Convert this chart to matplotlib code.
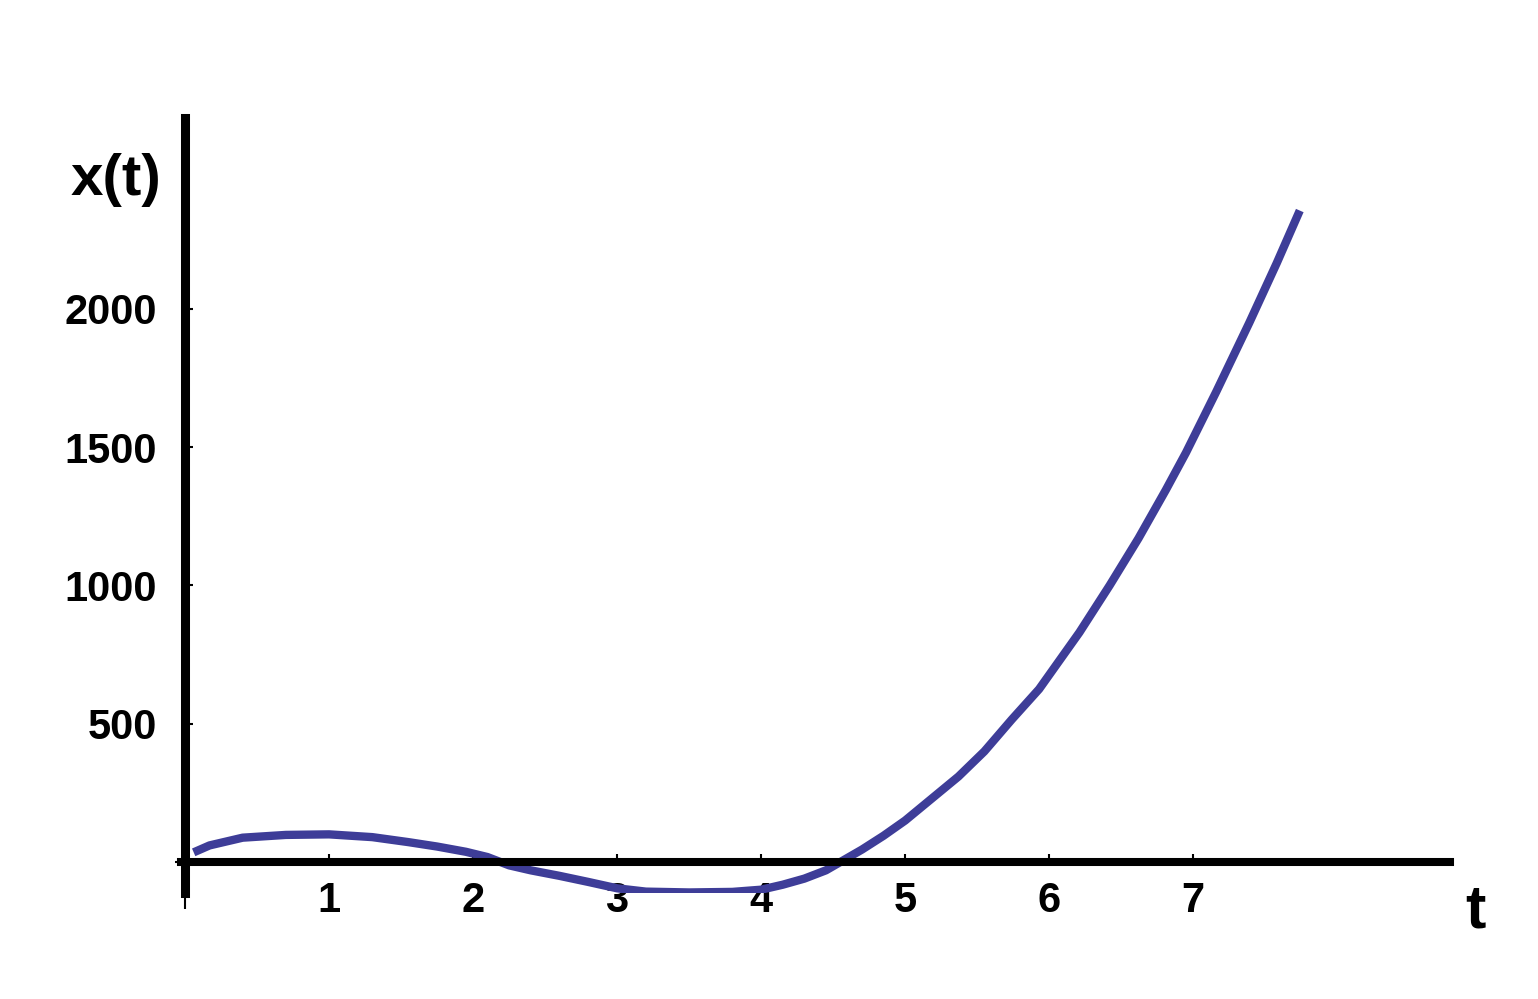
import matplotlib
matplotlib.use('Agg')
import matplotlib.pyplot as plt

plt.rcParams['font.family'] = ['Liberation Sans', 'DejaVu Sans']

# curve
t = [0.06, 0.17, 0.4, 0.7, 1.0, 1.3, 1.55, 1.75, 1.95, 2.1, 2.25, 2.4, 2.6, 2.8,
     3.0, 3.2, 3.5, 3.8, 4.0, 4.15, 4.3, 4.45, 4.55, 4.7, 4.85, 5.0, 5.37, 5.55,
     5.74, 5.93, 6.21, 6.42, 6.62, 6.81, 6.95, 7.16, 7.39, 7.58, 7.74]
x = [35, 60, 88, 98, 100, 90, 72, 56, 37, 18, -12, -30, -50, -72,
     -95, -107, -110, -108, -100, -82, -60, -30, 0, 45, 95, 150, 309, 400,
     515, 625, 830, 1000, 1170, 1345, 1480, 1700, 1950, 2165, 2355]

xticks = [1, 2, 3, 4, 5, 6, 7]
yticks = [500, 1000, 1500, 2000]

fig = plt.figure(figsize=(15.38, 9.99), dpi=100)
ax = fig.add_axes([0.1175, 0.1061, 0.8250, 0.7759])

ax.plot(t, x, color='#3e3d98', lw=6, solid_capstyle='butt', solid_joinstyle='round')

ax.set_xlim(-0.03, 8.78)
ax.set_ylim(-112, 2690)

# axes through the origin
ax.spines['top'].set_visible(False)
ax.spines['right'].set_visible(False)
ax.spines['left'].set_position(('data', 0))
ax.spines['bottom'].set_position(('data', 0))
ax.spines['left'].set_linewidth(6.5)
ax.spines['bottom'].set_linewidth(5.8)

ax.set_xticks(xticks)
ax.set_xticklabels([str(v) for v in xticks])
ax.set_yticks(yticks)
ax.set_yticklabels([str(v) for v in yticks])
ax.tick_params(axis='x', direction='in', length=6, width=1.5, pad=14,
               labelsize=30)
ax.tick_params(axis='y', direction='in', length=6, width=1.5, pad=20,
               labelsize=30)
for lab in ax.get_xticklabels() + ax.get_yticklabels():
    lab.set_fontweight('bold')

# small stubs at the origin
ax.set_xticks([0], minor=True)
ax.set_yticks([0], minor=True)
ax.tick_params(axis='x', which='minor', direction='out', length=34, width=1.5)
ax.tick_params(axis='y', which='minor', direction='out', length=7, width=1.5)

fig.text(116 / 1538, 1 - 180 / 999, 'x(t)', ha='center', va='center',
         fontsize=42, fontweight='bold')
fig.text(1475 / 1538, 1 - 912 / 999, 't', ha='center', va='center',
         fontsize=44, fontweight='bold')

fig.savefig('out.png', dpi=100, facecolor='white')
